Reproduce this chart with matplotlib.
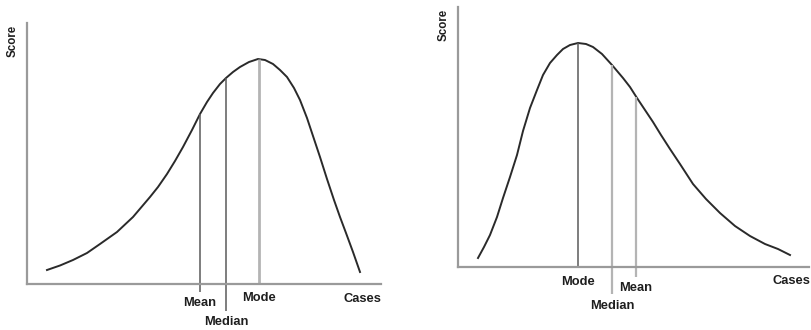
import matplotlib
matplotlib.use("Agg")
import matplotlib.pyplot as plt

plt.rcParams['font.family'] = ['Liberation Sans', 'DejaVu Sans']

# ---- Left panel (negatively skewed) ----
left_x = [20, 33, 46, 60, 73, 90, 106, 123, 131, 140, 148, 156, 165, 173, 180, 186, 193, 199,
          206, 213, 222, 231, 238, 246, 253, 260, 267, 273, 280, 286, 293, 300, 307, 313,
          319, 326, 333]
left_y = [14, 18.5, 24, 31, 40, 52, 67, 87, 97, 110, 123, 137, 154, 170, 182, 191, 200, 206,
          212, 217, 222, 225, 224, 220, 214, 207, 196, 184, 166, 148, 127, 105, 84, 67,
          51, 32, 12]
left_marks = ["Mean", "Median", "Mode"]
left_mark_x = [173, 199, 232]
left_mark_top = [170, 206, 225]
left_mark_bottom = [-8, -27, 0]
left_label_y = [-19, -38, -14]
left_cases_x = 335

# ---- Right panel (positively skewed) ----
right_x = [20, 26, 32, 39, 45, 52, 59, 65, 72, 79, 85, 92, 99, 105, 112, 120, 128, 135, 144,
           154, 165, 172, 179, 187, 195, 203, 212, 222, 235, 248, 262, 277, 292, 307, 320, 332]
right_y = [9, 20, 32, 50, 69, 90, 112, 136, 159, 177, 192, 204, 212, 218, 222, 224, 223, 220,
           213, 202, 189, 180, 169, 157, 145, 132, 118, 103, 83, 68, 54, 41, 31, 23, 18, 12]
right_marks = ["Mode", "Median", "Mean"]
right_mark_x = [120, 154, 178]
right_mark_top = [224, 202, 170]
right_mark_bottom = [0, -27, -10]
right_label_y = [-15, -39, -21]
right_cases_x = 333

x_title = "Cases"
y_title = "Score"

W, H = 812, 330
fig = plt.figure(figsize=(W / 100, H / 100), dpi=100)

axis_col = "#9a9a9a"
curve_col = "#2a2a2a"
dark_line = "#5a5a5a"
light_line = "#b4b4b4"
text_col = "#1e1e1e"


def panel(rect, xmax, ymax, xs, ys, marks, mx, mtop, mbot, ly, cases_x, styles):
    ax = fig.add_axes(rect)
    ax.set_xlim(0, xmax)
    ax.set_ylim(0, ymax)
    for s in ["top", "right"]:
        ax.spines[s].set_visible(False)
    for s in ["left", "bottom"]:
        ax.spines[s].set_color(axis_col)
        ax.spines[s].set_linewidth(1.6)
    ax.set_xticks([])
    ax.set_yticks([])
    ax.patch.set_alpha(0)
    ax.plot(xs, ys, color=curve_col, lw=1.4, solid_joinstyle="round", clip_on=False)
    for name, x, t, b, yy, (c, w) in zip(marks, mx, mtop, mbot, ly, styles):
        ax.plot([x, x], [b, t], color=c, lw=w, clip_on=False, solid_capstyle="butt")
        ax.text(x, yy, name, ha="center", va="center", fontsize=9.3,
                fontweight="bold", color=text_col, clip_on=False)
    ax.text(cases_x, -14.5, x_title, ha="center", va="center", fontsize=9.3,
            fontweight="bold", color=text_col)
    ax.text(-14, ymax - 18, y_title, rotation=90, ha="center", va="center",
            fontsize=8.3, fontweight="bold", color=text_col)
    return ax


panel([27 / W, 46 / H, 354 / W, 261 / H], 354, 261, left_x, left_y,
      left_marks, left_mark_x, left_mark_top, left_mark_bottom, left_label_y, left_cases_x,
      [(dark_line, 1.1), (dark_line, 1.1), (light_line, 2.0)])
panel([458 / W, 63 / H, 351 / W, 260 / H], 351, 260, right_x, right_y,
      right_marks, right_mark_x, right_mark_top, right_mark_bottom, right_label_y, right_cases_x,
      [(dark_line, 1.1), (light_line, 1.6), (light_line, 1.6)])

fig.savefig("out.png", dpi=100)
